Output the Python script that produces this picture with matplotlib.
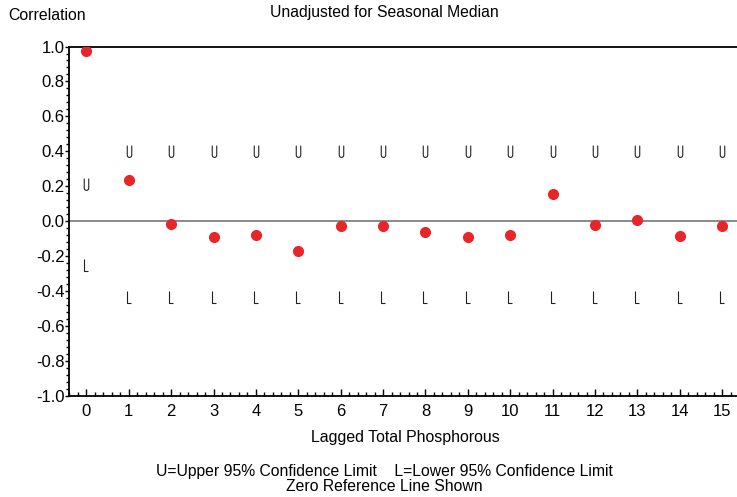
import numpy as np
import matplotlib
matplotlib.use("Agg")
import matplotlib.pyplot as plt
from matplotlib.path import Path
from matplotlib.ticker import MultipleLocator, FormatStrFormatter

# lags and autocorrelation estimates
lags = list(range(16))
corr = [0.975, 0.235, -0.015, -0.09, -0.08, -0.174, -0.03, -0.03,
        -0.065, -0.09, -0.08, 0.157, -0.025, 0.008, -0.086, -0.03]
upper = [0.21] + [0.40] * 15
lower = [-0.25] + [-0.435] * 15

plt.rcParams["font.family"] = ["Liberation Sans", "DejaVu Sans"]


def _u_marker():
    t = np.linspace(np.pi, 2 * np.pi, 12)
    verts = [(-0.38, 1.0)] + [(0.38 * np.cos(a), -0.62 + 0.38 * np.sin(a)) for a in t] + [(0.38, 1.0)]
    return Path(verts)


def _l_marker():
    return Path([(-0.35, 1.0), (-0.35, -1.0), (0.35, -1.0)])


fig = plt.figure(figsize=(7.37, 4.97), dpi=100)
ax = fig.add_axes([0.0936, 0.2038, 0.9064, 0.7026])

ax.axhline(0, color="#808080", linewidth=1.3, zorder=1)
ax.plot(lags, upper, linestyle="none", marker=_u_marker(), markersize=8.5,
        markerfacecolor="none", markeredgecolor="#222222", markeredgewidth=0.8)
ax.plot(lags, lower, linestyle="none", marker=_l_marker(), markersize=8.5,
        markerfacecolor="none", markeredgecolor="#222222", markeredgewidth=0.8)
ax.plot(lags, corr, linestyle="none", marker="o", markersize=7,
        color="#e8262a", zorder=3)

ax.set_xlim(-0.41, 15.35)
ax.set_ylim(-1.0, 1.0)
ax.spines["right"].set_visible(False)
for s in ("left", "bottom", "top"):
    ax.spines[s].set_linewidth(1.3)

ax.xaxis.set_major_locator(MultipleLocator(1))
ax.xaxis.set_minor_locator(MultipleLocator(0.2))
ax.yaxis.set_major_locator(MultipleLocator(0.2))
ax.yaxis.set_minor_locator(MultipleLocator(0.04))
ax.yaxis.set_major_formatter(FormatStrFormatter("%.1f"))
ax.tick_params(axis="x", which="major", direction="in", length=5, width=1, labelsize=12, pad=6)
ax.tick_params(axis="x", which="minor", direction="in", length=3, width=1)
ax.tick_params(axis="y", which="major", direction="out", length=3, width=1, labelsize=12, pad=0)
ax.tick_params(axis="y", which="minor", direction="out", length=2, width=1)
ax.tick_params(top=False, which="both")

fig.text(0.011, 0.968, "Correlation", fontsize=11.4, ha="left", va="center")
fig.text(0.521, 0.975, "Unadjusted for Seasonal Median", fontsize=11.3, ha="center", va="center")
fig.text(0.550, 0.120, "Lagged Total Phosphorous", fontsize=11.4, ha="center", va="center")
fig.text(0.521, 0.052, "U=Upper 95% Confidence Limit    L=Lower 95% Confidence Limit",
         fontsize=11.3, ha="center", va="center")
fig.text(0.521, 0.021, "Zero Reference Line Shown", fontsize=11.3, ha="center", va="center")

fig.savefig("out.png", dpi=100)
